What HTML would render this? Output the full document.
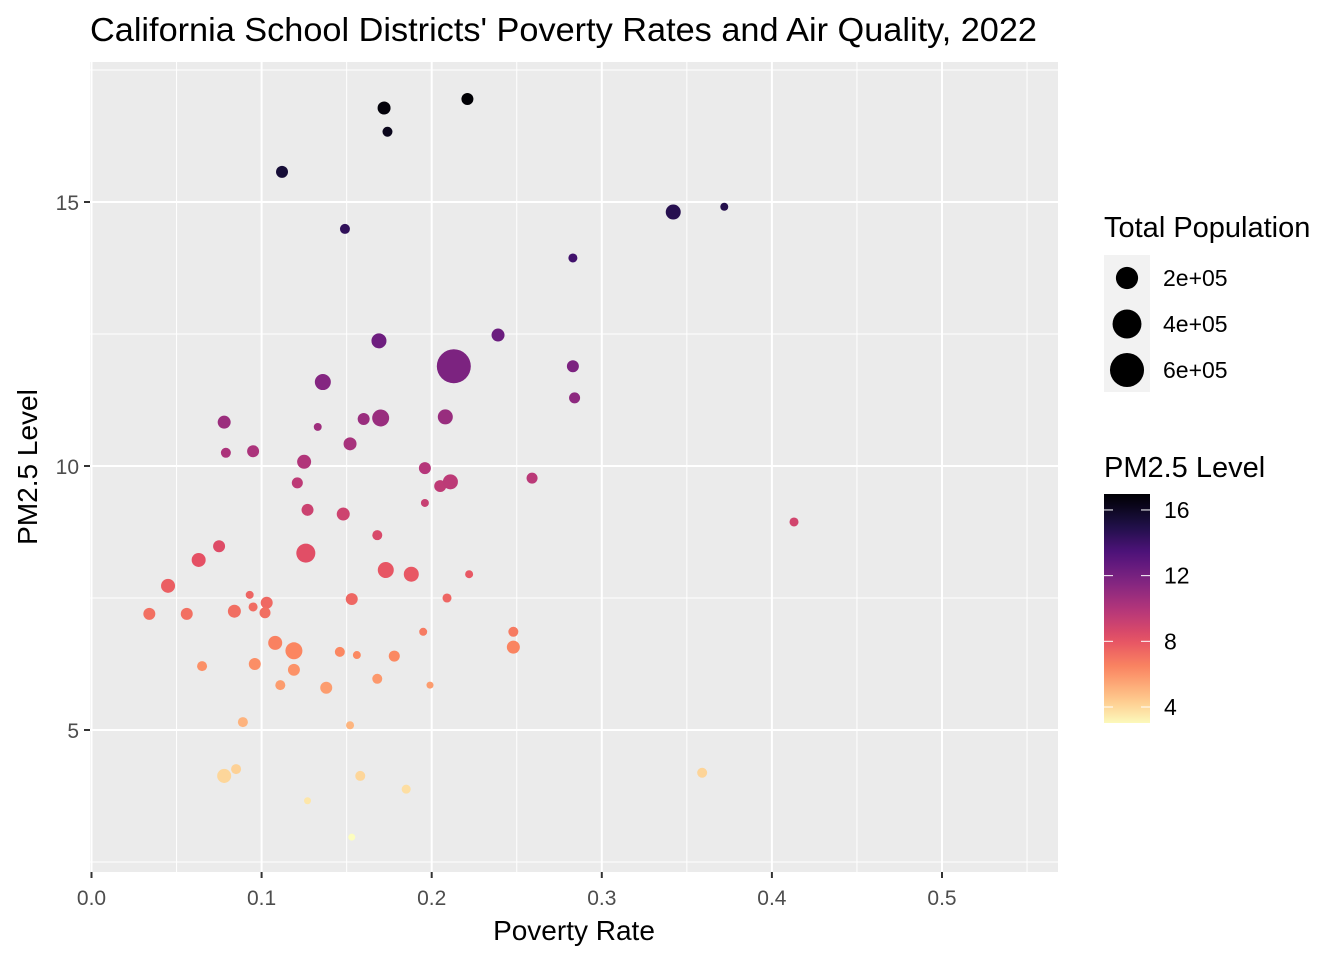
<!DOCTYPE html>
<html><head><meta charset="utf-8"><style>
body{margin:0;background:#fff;}
svg{display:block;font-family:"Liberation Sans",Arial,sans-serif;}
</style></head><body>
<svg id="chart" width="1344" height="960" xmlns="http://www.w3.org/2000/svg">
<text x="90" y="41" font-size="33" textLength="947" lengthAdjust="spacingAndGlyphs" fill="#000">California School Districts' Poverty Rates and Air Quality, 2022</text>
<rect x="90" y="62" width="968" height="810" fill="#ebebeb"/>
<g id="grid"></g>
<g id="points"></g>
<g id="axes"></g>
<text x="574" y="940" font-size="28" text-anchor="middle">Poverty Rate</text>
<text transform="translate(37,467) rotate(-90)" font-size="28" text-anchor="middle">PM2.5 Level</text>
<g>
<text x="1104" y="237" font-size="29">Total Population</text>
<rect x="1104" y="255" width="46" height="137" fill="#f2f2f2"/>
<g id="sizekeys"></g>
</g>
<g>
<text x="1104" y="477" font-size="29">PM2.5 Level</text>
<defs><linearGradient id="mg" x1="0" y1="1" x2="0" y2="0"></linearGradient></defs>
<rect id="cbar" x="1104" y="494" width="46" height="229" fill="url(#mg)"/>
<g id="cticks"></g>
</g>
</svg>
<script>
const povertyRate=[0.221,0.172,0.174,0.112,0.149,0.342,0.372,0.283,0.239,0.169,0.213,0.136,0.283,0.284,0.078,0.133,0.160,0.170,0.208,0.079,0.095,0.152,0.125,0.196,0.121,0.205,0.211,0.259,0.196,0.413,0.127,0.148,0.168,0.075,0.126,0.063,0.045,0.173,0.188,0.222,0.093,0.034,0.056,0.084,0.103,0.095,0.102,0.153,0.209,0.108,0.119,0.195,0.248,0.248,0.146,0.156,0.178,0.065,0.096,0.119,0.168,0.111,0.138,0.199,0.089,0.152,0.078,0.085,0.158,0.359,0.185,0.127,0.153];
const pm25=[16.95,16.78,16.33,15.57,14.49,14.81,14.91,13.94,12.48,12.37,11.89,11.59,11.89,11.29,10.83,10.74,10.89,10.91,10.93,10.25,10.28,10.42,10.08,9.96,9.68,9.62,9.70,9.77,9.30,8.94,9.17,9.09,8.69,8.48,8.35,8.22,7.73,8.03,7.95,7.95,7.56,7.20,7.20,7.25,7.41,7.33,7.22,7.48,7.50,6.65,6.50,6.86,6.86,6.57,6.48,6.42,6.40,6.21,6.25,6.14,5.97,5.85,5.80,5.85,5.15,5.09,4.13,4.26,4.13,4.19,3.88,3.66,2.97];
const population=[79,93,55,79,55,124,35,45,93,124,636,141,79,67,93,35,79,159,124,55,79,93,108,79,67,79,124,67,35,45,79,93,55,79,199,108,108,141,124,35,35,79,79,93,79,45,67,79,45,108,159,35,55,93,55,35,67,55,79,79,55,55,79,27,55,35,108,55,55,55,45,27,27];
const xTicks=[0,0.1,0.2,0.3,0.4,0.5];
const xTickLabels=["0.0","0.1","0.2","0.3","0.4","0.5"];
const yTicks=[5,10,15];
const sizeBreaks=[200,400,600];
const sizeLabels=["2e+05","4e+05","6e+05"];
const colorTicks=[16,12,8,4];

const NS="http://www.w3.org/2000/svg";
const X=v=>91.5+v*1701, Y=v=>466-(v-10)*52.8;
const R=p=>0.674*Math.sqrt(p);
const cmin=2.97,cmax=16.95;
const stops=["#000004","#1c1044","#4f127b","#812581","#b5367a","#e55064","#fb8761","#fec287","#fcfdbf"];
function hex(h){return [1,3,5].map(i=>parseInt(h.substr(i,2),16));}
function magma(t){t=Math.max(0,Math.min(1,t));const s=t*8,i=Math.min(7,Math.floor(s)),f=s-i;const a=hex(stops[i]),b=hex(stops[i+1]);return "rgb("+a.map((c,k)=>Math.round(c+(b[k]-c)*f)).join(",")+")";}
const col=v=>magma(1-(v-cmin)/(cmax-cmin));
function mk(tag,attrs,parent){const e=document.createElementNS(NS,tag);for(const k in attrs)e.setAttribute(k,attrs[k]);parent.appendChild(e);return e;}
const grid=document.getElementById('grid');
for(let v=0.05;v<0.57;v+=0.1){const l=mk('line',{x1:X(v),x2:X(v),y1:62,y2:872,stroke:'#fff','stroke-width':1},grid);}
[2.5,7.5,12.5,17.5].forEach(v=>{const l=mk('line',{x1:90,x2:1058,y1:Y(v),y2:Y(v),stroke:'#fff','stroke-width':1},grid);});
const axes=document.getElementById('axes');
xTicks.forEach((v,i)=>{const l=mk('line',{x1:X(v),x2:X(v),y1:62,y2:872,stroke:'#fff','stroke-width':2},grid);
 const t=mk('line',{x1:X(v),x2:X(v),y1:872,y2:878,stroke:'#333','stroke-width':2},axes);
 const tx=mk('text',{x:X(v),y:905,'font-size':21,'text-anchor':'middle',fill:'#4d4d4d'},axes);tx.textContent=xTickLabels[i];});
yTicks.forEach(v=>{const l=mk('line',{x1:90,x2:1058,y1:Y(v),y2:Y(v),stroke:'#fff','stroke-width':2},grid);
 const t=mk('line',{x1:84,x2:90,y1:Y(v),y2:Y(v),stroke:'#333','stroke-width':2},axes);
 const tx=mk('text',{x:79,y:Y(v)+8,'font-size':21,'text-anchor':'end',fill:'#4d4d4d'},axes);tx.textContent=String(v);});
const pts=document.getElementById('points');
povertyRate.forEach((x,i)=>{const c=mk('circle',{cx:X(x),cy:Y(pm25[i]),r:R(population[i]),fill:col(pm25[i])},pts);});
const sk=document.getElementById('sizekeys');
sizeBreaks.forEach((p,i)=>{const cy=278+i*46;const c=mk('circle',{cx:1127,cy:cy,r:R(p)*0.85+3,fill:'#000'},sk);
 const t=mk('text',{x:1163,y:cy+8,'font-size':23},sk);t.textContent=sizeLabels[i];});
const g=document.getElementById('mg');
for(let i=0;i<=20;i++){const v=3.1+(17.05-3.1)*i/20;mk('stop',{offset:(i/20),'stop-color':col(v)},g);}
const ct=document.getElementById('cticks');
const CY=v=>707-(v-4)*16.42;
colorTicks.forEach(v=>{const y=CY(v);
 const a=mk('line',{x1:1104,x2:1113,y1:y,y2:y,stroke:'#fff','stroke-width':1},ct);
 const b=mk('line',{x1:1141,x2:1150,y1:y,y2:y,stroke:'#fff','stroke-width':1},ct);
 const t=mk('text',{x:1164,y:y+8,'font-size':23},ct);t.textContent=String(v);});
</script>
</body></html>
